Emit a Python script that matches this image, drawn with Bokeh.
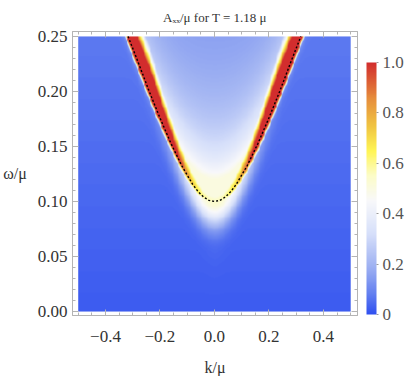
import numpy as np
from bokeh.plotting import figure
from bokeh.models import (LinearColorMapper, ColorBar, FixedTicker, LinearAxis,
                          CustomJSTickFormatter, Range1d)
from bokeh.embed import file_html
from bokeh.resources import INLINE

# ---- values ----
k_range = [-0.5, 0.5]
omega_range = [0.0, 0.25]
gap_omega = 0.10          # bottom of the dispersion (dashed curve) at k = 0
band_velocity = 0.724     # slope parameter of the dispersion
# dashed dispersion curve
curve_k = [-0.317, -0.28, -0.24, -0.20, -0.16, -0.12, -0.08, -0.06, -0.04, -0.02, 0.0,
           0.02, 0.04, 0.06, 0.08, 0.12, 0.16, 0.20, 0.24, 0.28, 0.317]
curve_omega = [0.250, 0.2266, 0.2004, 0.1760, 0.1530, 0.1325, 0.1156, 0.1090, 0.1041, 0.1010, 0.100,
               0.1010, 0.1041, 0.1090, 0.1156, 0.1325, 0.1530, 0.1760, 0.2004, 0.2266, 0.250]
# colour scale stops (value, colour)
cbar_values = [0.0, 0.08, 0.19, 0.32, 0.45, 0.55, 0.65, 0.75, 0.86, 1.0]
cbar_colors = [(48, 80, 240), (100, 128, 240), (158, 177, 242), (215, 224, 250),
               (248, 248, 250), (252, 252, 200), (255, 245, 85), (240, 195, 65),
               (230, 140, 60), (210, 45, 45)]
cbar_ticks = [0.0, 0.2, 0.4, 0.6, 0.8, 1.0]
x_ticks = [-0.4, -0.2, 0.0, 0.2, 0.4]
y_ticks = [0.00, 0.05, 0.10, 0.15, 0.20, 0.25]
# intensity levels
background_low, background_high = 0.02, 0.07
cone_inside_level = 0.12
band_edge_level = 0.30
vertex_glow = 0.30
below_glow = 0.45
gap_blob = 0.50
peak_at_gap, peak_max = 0.55, 1.6

# ---- build the field ----
nk, nw = 320, 300
K = np.linspace(k_range[0], k_range[1], nk)
W = np.linspace(omega_range[0], omega_range[1], nw)
kk, ww = np.meshgrid(K, W)
E = np.sqrt(gap_omega**2 + (band_velocity * kk)**2)
m = band_velocity**2 * np.abs(kk) / E
s = (E - ww) / np.sqrt(1 + m**2)          # >0 below / outside the curve

bg = background_low + (background_high - background_low) * ww / omega_range[1]
inner = cone_inside_level + band_edge_level * np.exp(-np.abs(s) / 0.03) \
    + vertex_glow * np.exp(-np.clip(ww - gap_omega, 0, None) / 0.07)
inner = np.minimum(inner, 0.5)
lam_out = 0.012 / (1 + 5 * m**2)
d_below = np.clip(E - ww, 0, None)
outer = bg + np.maximum(below_glow * np.exp(-np.clip(s, 0, None) / lam_out),
                        gap_blob * np.exp(-(kk / 0.14)**2) * np.exp(-(d_below / 0.022)**2))
base = np.where(s < 0, np.maximum(bg, inner), outer)

T = np.minimum(peak_max, peak_at_gap + 12 * (E - gap_omega))
sig_in = 0.012 + 0.014 * np.minimum(1, (E - gap_omega) / 0.1)
sig = np.where(s < 0, sig_in, 0.005)
pk = T * np.exp(-(s / sig)**2)
field = np.clip(np.maximum(base, pk), 0, 1)

# ---- palette ----
lv = np.linspace(0, 1, 256)
cols = np.array(cbar_colors, dtype=float)
palette = []
for v in lv:
    r = np.interp(v, cbar_values, cols[:, 0])
    g = np.interp(v, cbar_values, cols[:, 1])
    b = np.interp(v, cbar_values, cols[:, 2])
    palette.append("#%02x%02x%02x" % (int(round(r)), int(round(g)), int(round(b))))
mapper = LinearColorMapper(palette=palette, low=0, high=1)

FONT = "Liberation Serif"
TXT = "#333333"
FRAME = "#b4b4b4"

p = figure(frame_width=285, frame_height=284, output_backend="svg", toolbar_location=None,
           x_range=Range1d(-0.521, 0.525), y_range=Range1d(-0.0036, 0.2545),
           min_border_left=60, min_border_right=0, min_border_top=18, min_border_bottom=0,
           title="Aₓₓ/μ for T = 1.18 μ")
p.title.align = "center"
p.title.text_font = FONT
p.title.text_font_size = "13px"
p.title.text_font_style = "normal"
p.title.text_color = TXT
p.title.standoff = 14
p.grid.visible = False
p.outline_line_color = FRAME
p.background_fill_color = "white"

p.image(image=[field], x=k_range[0], y=omega_range[0], dw=k_range[1] - k_range[0],
        dh=omega_range[1] - omega_range[0], color_mapper=mapper)
p.line(curve_k, curve_omega, line_color="black", line_width=1.4, line_dash="2 2")

x_minor = [round(v, 2) for v in np.arange(-0.5, 0.51, 0.05)]
y_minor = [round(v, 3) for v in np.arange(0, 0.251, 0.01)]


def style_axis(ax, ticks, minor, labels=True):
    ax.ticker = FixedTicker(ticks=ticks, minor_ticks=minor)
    ax.axis_line_color = FRAME
    ax.major_tick_line_color = FRAME
    ax.minor_tick_line_color = FRAME
    ax.major_tick_in = 6
    ax.major_tick_out = 0
    ax.minor_tick_in = 3
    ax.minor_tick_out = 0
    ax.major_label_text_font = FONT
    ax.major_label_text_font_size = "17px" if labels else "0px"
    ax.major_label_text_color = TXT if labels else None
    ax.axis_label_text_font = FONT
    ax.axis_label_text_font_size = "16px"
    ax.axis_label_text_font_style = "normal"
    ax.axis_label_text_color = TXT


style_axis(p.xaxis[0], x_ticks, x_minor)
style_axis(p.yaxis[0], y_ticks, y_minor)
p.xaxis[0].axis_label = "k/μ"
p.xaxis[0].major_label_standoff = 15
p.xaxis[0].axis_label_standoff = 14
p.xaxis[0].formatter = CustomJSTickFormatter(code="return tick.toFixed(1).replace('-', '\u2212');")
p.yaxis[0].axis_label = "ω/μ"
p.yaxis[0].axis_label_orientation = "horizontal"
p.yaxis[0].major_label_standoff = 5
p.yaxis[0].axis_label_standoff = 8
p.yaxis[0].formatter = CustomJSTickFormatter(code="return tick.toFixed(2);")

top_ax = LinearAxis()
style_axis(top_ax, x_ticks, x_minor, labels=False)
p.add_layout(top_ax, "above")
right_ax = LinearAxis()
style_axis(right_ax, y_ticks, y_minor, labels=False)
p.add_layout(right_ax, "right")

cb = ColorBar(color_mapper=mapper, width=10, height=252,
              ticker=FixedTicker(ticks=cbar_ticks),
              formatter=CustomJSTickFormatter(code="return tick == 0 ? '0' : tick.toFixed(1);"),
              major_label_text_font=FONT, major_label_text_font_size="17px",
              major_label_text_color="#555555", label_standoff=4,
              major_tick_line_color="#999999", major_tick_in=0, major_tick_out=2,
              bar_line_color=None, border_line_color=None, background_fill_color=None,
              padding=0, margin=27, location=(9, 1))
p.add_layout(cb, "right")

open("out.html", "w").write(file_html(p, INLINE))
